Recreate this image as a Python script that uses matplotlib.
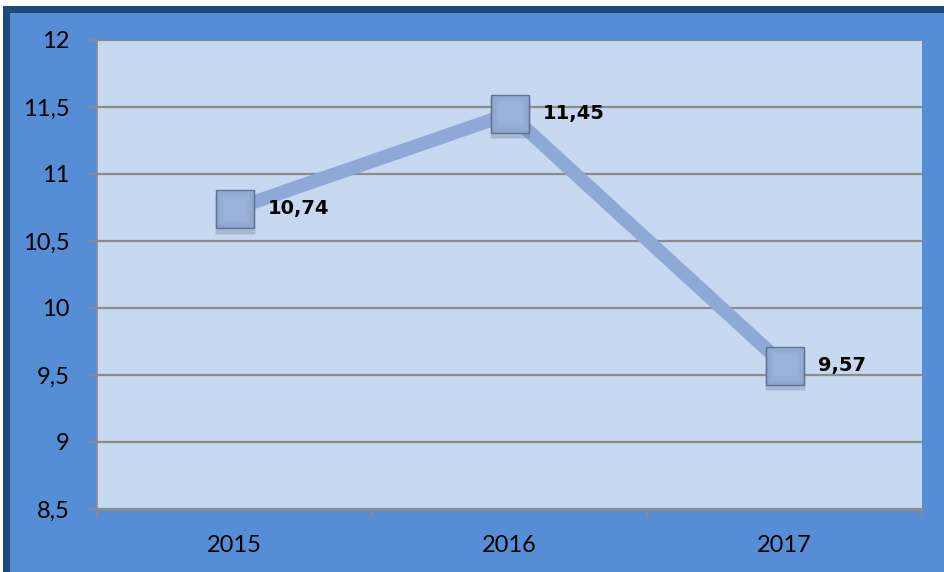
import matplotlib
matplotlib.use("Agg")
import matplotlib.pyplot as plt
from matplotlib.patches import Rectangle
from matplotlib.ticker import FixedLocator, FuncFormatter

years = ["2015", "2016", "2017"]
values = [10.74, 11.45, 9.57]
y_ticks = [8.5, 9, 9.5, 10, 10.5, 11, 11.5, 12]

W, H = 944, 572
fig = plt.figure(figsize=(W / 100, H / 100), dpi=100)
fig.patch.set_facecolor("white")

# outer frame: dark navy border and blue chart area
fig.add_artist(Rectangle((3 / W, 0), 1, 1 - 6 / H, transform=fig.transFigure,
                         facecolor="#1F497D", edgecolor="none", zorder=-3))
fig.add_artist(Rectangle((10 / W, 0), 1, 1 - 12.5 / H, transform=fig.transFigure,
                         facecolor="#558ED5", edgecolor="none", zorder=-2))

ax = fig.add_axes([97 / W, 1 - 509 / H, (922 - 97) / W, (509 - 40) / H])
ax.set_facecolor("#C6D9F1")

x = [i + 0.5 for i in range(len(years))]
ax.set_xlim(0, len(years))
ax.set_ylim(8.5, 12)

# line
ax.plot(x, values, color="#8EA9D5", lw=9.8, solid_capstyle="butt", zorder=3)
# marker shadow
ax.plot(x, [v - 0.035 for v in values], ls="none", marker="s",
        ms=29, mfc="#6F809A", mec="none", alpha=0.35, zorder=4)
# markers (bevelled look)
ax.plot(x, values, ls="none", marker="s", ms=28, mfc="#8DA3CB",
        mec="#5F7291", mew=1.0, zorder=5)
for ms, col, dy in [(24, "#93A9D1", 0.006), (20, "#98AED6", 0.008),
                    (16, "#9CB2DA", 0.010)]:
    ax.plot(x, [v + dy for v in values], ls="none", marker="s", ms=ms,
            mfc=col, mec="none", zorder=6)

for xi, v in zip(x, values):
    ax.annotate(f"{v:.2f}".replace(".", ","), (xi, v), xytext=(24, 0),
                textcoords="offset points", ha="left", va="center",
                fontsize=14, fontweight="bold", family="DejaVu Sans",
                color="black", zorder=7)

# grid
ax.yaxis.set_major_locator(FixedLocator(y_ticks))
ax.yaxis.set_major_formatter(FuncFormatter(
    lambda v, p: (f"{v:g}").replace(".", ",")))
ax.grid(axis="y", color="#8C8C8C", lw=1.6, zorder=1)
ax.set_axisbelow(True)

ax.xaxis.set_major_locator(FixedLocator(range(len(years) + 1)))
ax.xaxis.set_major_formatter(FuncFormatter(lambda v, p: ""))
ax.xaxis.set_minor_locator(FixedLocator(x))
ax.set_xticklabels(years, minor=True)
ax.tick_params(axis="x", which="major", length=6, width=1.2, color="#8C8C8C",
               direction="out")
ax.tick_params(axis="x", which="minor", length=0, pad=19, labelsize=17,
               labelcolor="black")
ax.tick_params(axis="y", length=6, width=1.2, color="#8C8C8C", pad=14,
               labelsize=17, labelcolor="black")
for lab in ax.get_xticklabels(minor=True) + ax.get_yticklabels():
    lab.set_family("Lato")

for s in ["top", "right"]:
    ax.spines[s].set_visible(False)
ax.spines["left"].set_color("#8C8C8C")
ax.spines["left"].set_linewidth(1.2)
ax.spines["bottom"].set_color("#8C8C8C")
ax.spines["bottom"].set_linewidth(2)

fig.savefig("out.png", dpi=100, facecolor=fig.get_facecolor())
